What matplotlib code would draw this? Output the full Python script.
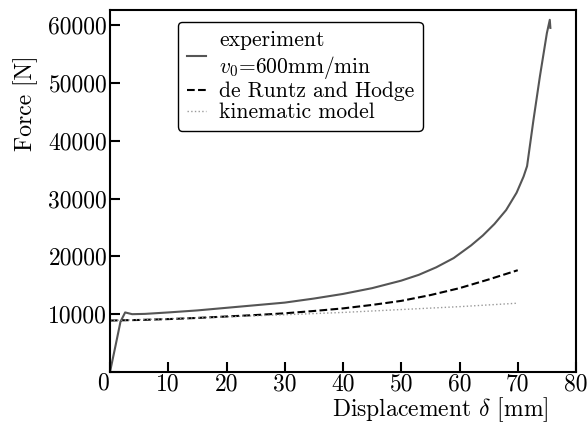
import matplotlib
matplotlib.use('Agg')
import matplotlib.pyplot as plt
import matplotlib.transforms as mtrans

plt.rcParams['font.family'] = 'serif'
plt.rcParams['font.serif'] = ['cmr10']
plt.rcParams['mathtext.fontset'] = 'cm'
plt.rcParams['axes.unicode_minus'] = False
plt.rcParams['axes.formatter.use_mathtext'] = True

# experiment curve
exp_x = [0.0, 1.0, 1.8, 2.6, 3.2, 3.8, 6.0, 10.0, 15.0, 20.0, 25.0, 30.0, 35.0, 40.0,
         45.0, 50.0, 53.0, 56.0, 59.0, 62.0, 64.0, 66.0, 68.0, 69.8, 71.0, 71.6, 72.7,
         73.8, 75.0, 75.5, 75.6]
exp_y = [0, 4800, 8700, 10300, 10150, 10000, 10050, 10300, 10650, 11100, 11550, 12000,
         12700, 13500, 14500, 15800, 16800, 18100, 19700, 21900, 23600, 25600, 28000,
         31000, 33800, 35600, 43600, 51100, 58600, 60900, 59500]

# de Runtz and Hodge
drh_x = [0, 5, 10, 15, 20, 25, 30, 35, 40, 45, 50, 55, 60, 65, 70]
drh_y = [8900, 9000, 9150, 9350, 9600, 9850, 10150, 10550, 11000, 11600, 12300, 13300,
         14500, 16000, 17600]

# kinematic model
kin_x = [0, 10, 20, 30, 40, 50, 60, 70]
kin_y = [8900, 9200, 9550, 9900, 10300, 10800, 11300, 11900]


def main():
	fig = plt.figure(figsize=(5.88, 4.26), dpi=100)
	ax = fig.add_axes([110 / 588, 54 / 426, 466 / 588, 362 / 426])

	ax.plot(exp_x, exp_y, '-', color='#555555', lw=1.5,
	        label='experiment\n$v_0$=600mm/min')
	ax.plot(drh_x, drh_y, '--', color='black', lw=1.5, label='de Runtz and Hodge')
	ax.plot(kin_x, kin_y, ':', color='#999999', lw=1.0, label='kinematic model')

	ax.set_xlim(0, 80)
	ax.set_ylim(0, 62600)
	ax.set_xticks([0, 10, 20, 30, 40, 50, 60, 70, 80])
	ax.set_yticks([0, 10000, 20000, 30000, 40000, 50000, 60000])
	ax.set_xticklabels(['', '10', '20', '30', '40', '50', '60', '70', '80'])
	ax.set_yticklabels(['0', '10000', '20000', '30000', '40000', '50000', '60000'])
	ax.tick_params(direction='in', length=7, width=1.5, labelsize=17, top=False, right=False)
	ax.tick_params(axis='x', pad=1)
	ax.tick_params(axis='y', pad=2)
	for s in ax.spines.values():
		s.set_linewidth(1.5)

	# the "0" sits a bit lower, at the corner
	zero = ax.get_yticklabels()[0]
	zero.set_transform(zero.get_transform() + mtrans.ScaledTranslation(0.02, -0.09, fig.dpi_scale_trans))

	ax.set_xlabel(r'Displacement $\delta$ [mm]', fontsize=17)
	ax.xaxis.set_label_coords(0.709, -0.065)
	ax.set_ylabel('Force [N]', fontsize=17)
	ax.yaxis.set_label_coords(-0.155, 0.743)

	leg = ax.legend(loc='upper left', bbox_to_anchor=(0.146, 0.967), fontsize=15.5,
	                frameon=True, fancybox=True, handlelength=0.9, handletextpad=0.6,
	                labelspacing=0.05, borderpad=0.4, borderaxespad=0)
	leg.get_frame().set_edgecolor('black')
	leg.get_frame().set_linewidth(1.0)
	leg.get_frame().set_alpha(1)

	fig.savefig('out.png', dpi=100)


if __name__ == '__main__':
	main()
